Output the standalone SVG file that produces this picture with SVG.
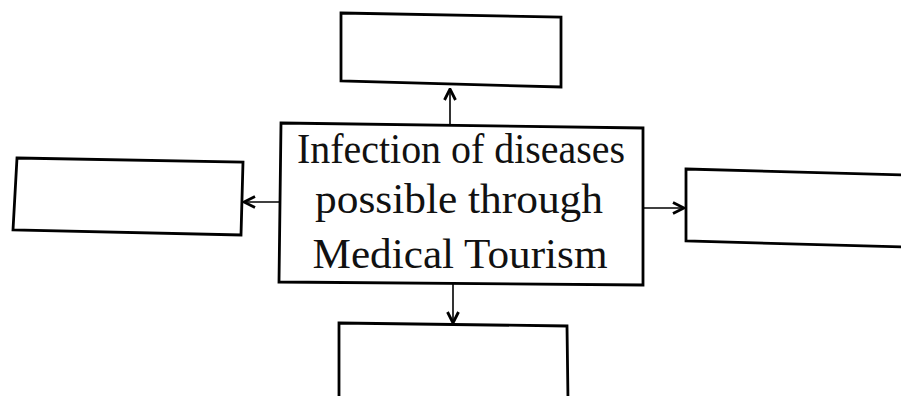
<svg xmlns="http://www.w3.org/2000/svg" width="901" height="396" viewBox="0 0 901 396">
<style>
.box{fill:#fff;stroke:#000;stroke-width:2.8;stroke-linejoin:miter}
.conn{stroke:#000;stroke-width:1.6;fill:none}
.t{font-family:"Liberation Serif","Times New Roman",serif;font-size:42px;fill:#111;text-anchor:middle}
</style>
<defs>
<marker id="ah" viewBox="0 0 14 14" refX="12.5" refY="7" markerWidth="14" markerHeight="14" markerUnits="userSpaceOnUse" orient="auto">
<path d="M1.5,1.5 L12.5,7 L1.5,12.5" fill="none" stroke="#000" stroke-width="2.8"/>
</marker>
</defs>
<rect width="901" height="396" fill="#fff"/>
<g id="connectors">
<line class="conn" x1="450" y1="124" x2="450" y2="89" marker-end="url(#ah)"/>
<line class="conn" x1="280" y1="202" x2="244" y2="202" marker-end="url(#ah)"/>
<line class="conn" x1="643" y1="208" x2="684" y2="208" marker-end="url(#ah)"/>
<line class="conn" x1="453" y1="284" x2="453" y2="323" marker-end="url(#ah)"/>
</g>
<g id="top">
<polygon class="box" points="341,13 561,17 561,87 341,81"/>
</g>
<g id="left">
<polygon class="box" points="17,158 243,162 241,235 13,230"/>
</g>
<g id="right">
<polygon class="box" points="686,169 903,175 903,247 686,241"/>
</g>
<g id="bottom">
<polygon class="box" points="339,323 567,326 568,400 339,400"/>
</g>
<g id="center">
<polygon class="box" points="281,123 643,128 643,285 279,282"/>
<text class="t" x="461" y="163" textLength="328" lengthAdjust="spacingAndGlyphs">Infection of diseases</text>
<text class="t" x="459" y="213" textLength="288" lengthAdjust="spacingAndGlyphs">possible through</text>
<text class="t" x="460" y="268" textLength="295" lengthAdjust="spacingAndGlyphs">Medical Tourism</text>
</g>
</svg>
